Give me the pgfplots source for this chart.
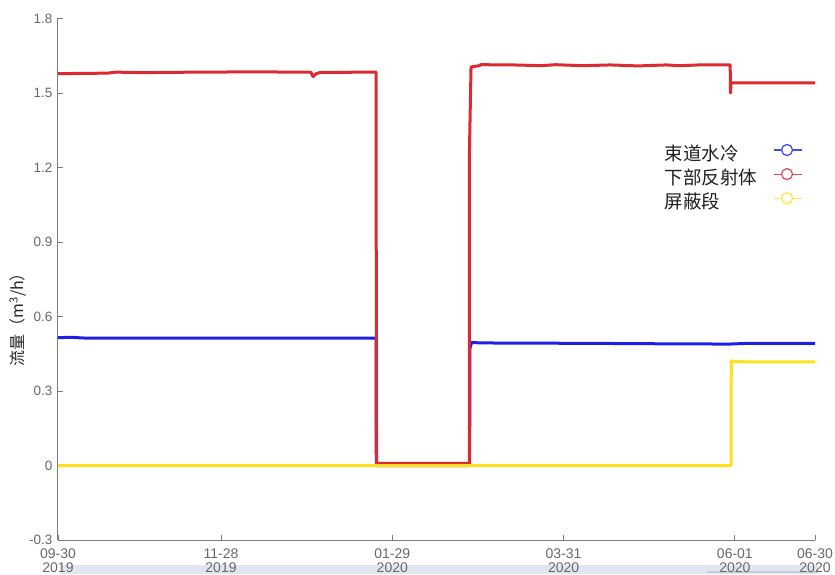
\documentclass[border=0pt]{standalone}
\usepackage{fontspec}
\setmainfont{Liberation Sans}
\newfontfamily\cjk{Noto Sans CJK SC}
\usepackage{pgfplots}
\pgfplotsset{compat=1.18}

\definecolor{cBlue}{HTML}{1E1EE8}
\definecolor{cRed}{HTML}{DC2A30}
\definecolor{cYellow}{HTML}{FFE01C}
\definecolor{lBlue}{HTML}{4A4AE6}
\definecolor{lRed}{HTML}{D8505A}
\definecolor{lYellow}{HTML}{FFE44A}
\definecolor{axisgray}{HTML}{7C7C7C}
\definecolor{ticktext}{HTML}{676767}
\definecolor{sliderbg}{HTML}{E0E5EF}
\definecolor{sliderln}{HTML}{C6CEDF}

\begin{document}
\begin{tikzpicture}[x=1pt,y=1pt]
\useasboundingbox (0,0) rectangle (835,574);
% range slider strip under the time axis
\fill[sliderbg] (60,0) rectangle (818,9);
\fill[sliderln] (707,1.5) rectangle (818,3);
\begin{axis}[
  at={(58pt,34pt)}, anchor=south west,
  scale only axis, width=757pt, height=521.5pt,
  xmin=0, xmax=274, ymin=-0.3, ymax=1.8,
  axis x line*=bottom, axis y line*=left,
  axis line style={axisgray, line width=1pt},
  tick style={axisgray, line width=0.9pt},
  major tick length=5pt,
  xtick={0,59,121,183,245,274},
  xticklabels={{09-30\\2019},{11-28\\2019},{01-29\\2020},{03-31\\2020},{06-01\\2020},{06-30\\2020}},
  xticklabel style={align=center, text=ticktext, font=\fontsize{14}{14}\selectfont, yshift=-5pt},
  ytick={-0.3,0,0.3,0.6,0.9,1.2,1.5,1.8},
  yticklabels={-0.3,0,0.3,0.6,0.9,1.2,1.5,1.8},
  yticklabel style={text=ticktext, font=\fontsize{13.5}{14}\selectfont, xshift=-2pt},
  ylabel={\cjk 流量（m\textsuperscript{3}/h）},
  ylabel style={at={(axis description cs:-0.0528,0.43)}, anchor=center, font=\fontsize{16}{18}\selectfont, text=black!85},
  clip=false,
  legend cell align=left,
  legend plot pos=right,
  legend style={at={(axis description cs:0.984,0.760)}, anchor=north east,
    draw=none, fill=none, inner sep=0pt,
    font=\cjk\fontsize{18.5}{20}\selectfont, text=black!88,
    nodes={inner sep=0pt, text height=13pt, text depth=4pt},
    row sep=3.5pt,
    /tikz/every odd column/.append style={column sep=16pt}},
  legend image code/.code={
    \draw[#1, line width=1.3pt] (0pt,6pt) -- (28pt,6pt);
    \draw[#1, line width=1.3pt, fill=white] (13pt,6pt) circle (5.5pt);
  },
]
\addlegendimage{lBlue}
\addlegendentry{束道水冷}
\addlegendimage{lRed}
\addlegendentry{下部反射体}
\addlegendimage{lYellow}
\addlegendentry{屏蔽段}

% 束道水冷
\addplot[forget plot, cBlue, line width=3pt, line join=round] coordinates {
  (0,0.515) (5,0.516) (10,0.513) (30,0.513) (60,0.513) (90,0.513)
  (115.1,0.513) (115.2,0.0) (149.0,0.0) (149.1,0.47) (149.7,0.496)
  (152,0.494) (160,0.493) (190,0.492) (220,0.490) (243,0.489)
  (250,0.492) (274,0.492)
};
% 下部反射体
\addplot[forget plot, cRed, line width=3pt, line join=round] coordinates {
  (0,1.578) (10,1.579) (18,1.580) (21,1.584) (30,1.582) (50,1.584)
  (70,1.585) (91.5,1.584) (92.3,1.566) (93.5,1.578) (95,1.583)
  (115.1,1.584) (115.3,0.009) (148.9,0.009) (148.9,1.25) (149.5,1.605)
  (152.5,1.610) (153,1.614) (165,1.613) (175,1.610) (180,1.614)
  (190,1.610) (200,1.613) (210,1.609) (220,1.613) (225,1.610)
  (232,1.613) (243.3,1.613) (243.4,1.50) (243.6,1.541) (250,1.541)
  (274,1.541)
};
% 屏蔽段
\addplot[forget plot, cYellow, line width=3pt, line join=round] coordinates {
  (0,0) (60,0) (120,0) (180,0) (243.6,0) (243.7,0.422) (245,0.418)
  (260,0.417) (274,0.417)
};
\end{axis}
\end{tikzpicture}
\end{document}
